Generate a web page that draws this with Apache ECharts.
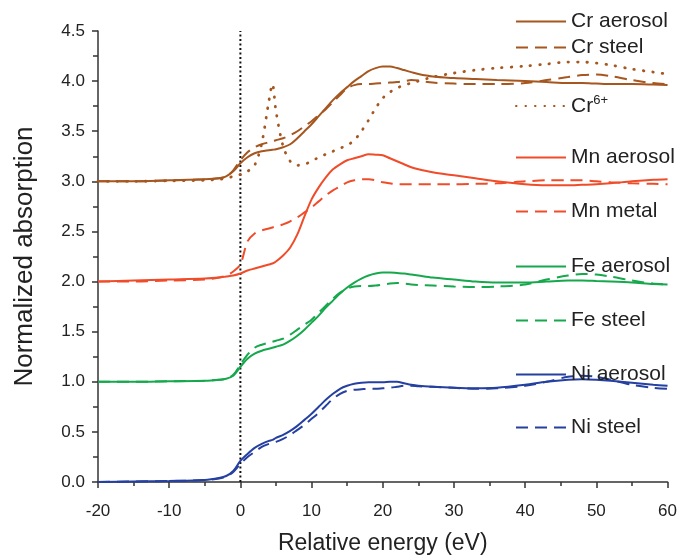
<!DOCTYPE html>
<html>
<head>
<meta charset="utf-8">
<script src="https://cdn.jsdelivr.net/npm/echarts@6/dist/echarts.min.js"></script>
<style>
  html, body { margin: 0; padding: 0; background: #fff; }
  #chart { width: 680px; height: 560px; }
</style>
</head>
<body>
<div id="chart"></div>
<script>
// Relative energy grid (eV) shared by every spectrum
const energy = [-20, -15, -10, -5, -3, -2, -1, 0, 1, 2, 3, 4, 4.5, 5, 6, 7, 8, 9, 10, 11, 12, 13, 14, 15, 16,
  17, 18, 19, 20, 21, 22, 23, 24, 25, 27, 30, 33, 36, 40, 43, 46, 48, 50, 52, 55, 58, 60];

// Normalized absorption, each element offset by one unit
const crAerosol = [3.00, 3.00, 3.01, 3.02, 3.03, 3.05, 3.10, 3.18, 3.24, 3.28, 3.30, 3.31, 3.315, 3.32, 3.34,
  3.37, 3.43, 3.50, 3.57, 3.65, 3.73, 3.81, 3.88, 3.94, 4.00, 4.05, 4.10, 4.13, 4.145, 4.145, 4.13, 4.11, 4.09,
  4.07, 4.045, 4.03, 4.02, 4.01, 4.00, 3.99, 3.98, 3.98, 3.975, 3.97, 3.97, 3.965, 3.96];
const crSteel = [3.00, 3.00, 3.01, 3.02, 3.03, 3.05, 3.11, 3.21, 3.29, 3.34, 3.37, 3.39, 3.40, 3.41, 3.43,
  3.46, 3.50, 3.55, 3.60, 3.66, 3.72, 3.79, 3.86, 3.93, 3.96, 3.97, 3.97, 3.975, 3.98, 3.985, 3.99, 4.00, 4.01,
  4.005, 3.985, 3.975, 3.97, 3.97, 3.98, 4.01, 4.04, 4.06, 4.065, 4.05, 4.01, 3.98, 3.97];
const cr6 = [3.00, 3.00, 3.005, 3.01, 3.02, 3.03, 3.05, 3.07, 3.10, 3.16, 3.38, 3.80, 3.97, 3.70, 3.35,
  3.20, 3.16, 3.17, 3.20, 3.24, 3.27, 3.30, 3.33, 3.36, 3.41, 3.50, 3.61, 3.73, 3.83, 3.89, 3.93, 3.96, 3.98,
  4.00, 4.04, 4.08, 4.11, 4.13, 4.15, 4.17, 4.19, 4.19, 4.18, 4.16, 4.12, 4.09, 4.07];
const mnAerosol = [2.00, 2.01, 2.02, 2.03, 2.04, 2.05, 2.06, 2.08, 2.11, 2.13, 2.15, 2.17, 2.18, 2.20, 2.26,
  2.34, 2.47, 2.65, 2.82, 2.94, 3.04, 3.12, 3.17, 3.21, 3.23, 3.25, 3.27, 3.265, 3.26, 3.23, 3.20, 3.17, 3.14,
  3.12, 3.09, 3.06, 3.03, 3.00, 2.97, 2.96, 2.96, 2.965, 2.97, 2.98, 3.00, 3.015, 3.02];
const mnMetal = [2.00, 2.00, 2.01, 2.02, 2.04, 2.06, 2.10, 2.17, 2.40, 2.48, 2.51, 2.53, 2.54, 2.55, 2.57,
  2.60, 2.64, 2.69, 2.74, 2.80, 2.86, 2.91, 2.95, 2.99, 3.01, 3.02, 3.02, 3.01, 2.99, 2.98, 2.97, 2.97, 2.97,
  2.97, 2.97, 2.97, 2.975, 2.98, 3.00, 3.01, 3.01, 3.01, 3.00, 2.99, 2.98, 2.975, 2.97];
const feAerosol = [1.00, 1.00, 1.005, 1.01, 1.02, 1.03, 1.06, 1.15, 1.23, 1.28, 1.31, 1.33, 1.34, 1.35, 1.37,
  1.41, 1.46, 1.52, 1.59, 1.66, 1.74, 1.81, 1.88, 1.94, 1.99, 2.03, 2.06, 2.08, 2.09, 2.09, 2.085, 2.08, 2.07,
  2.06, 2.04, 2.02, 2.00, 1.99, 1.99, 2.00, 2.01, 2.01, 2.005, 2.00, 1.99, 1.975, 1.97];
const feSteel = [1.00, 1.00, 1.005, 1.01, 1.02, 1.03, 1.07, 1.17, 1.27, 1.34, 1.37, 1.39, 1.40, 1.41, 1.43,
  1.47, 1.52, 1.57, 1.62, 1.69, 1.76, 1.83, 1.89, 1.93, 1.95, 1.955, 1.955, 1.96, 1.97, 1.98, 1.985, 1.98, 1.97,
  1.965, 1.96, 1.95, 1.945, 1.95, 1.97, 2.02, 2.06, 2.075, 2.07, 2.05, 2.01, 1.98, 1.97];
const niAerosol = [0.00, 0.005, 0.01, 0.02, 0.04, 0.06, 0.11, 0.21, 0.28, 0.34, 0.38, 0.41, 0.42, 0.44, 0.47,
  0.51, 0.56, 0.62, 0.68, 0.75, 0.82, 0.88, 0.93, 0.96, 0.98, 0.99, 0.995, 0.995, 0.995, 1.00, 1.00, 0.985, 0.97,
  0.96, 0.95, 0.94, 0.935, 0.94, 0.97, 1.00, 1.02, 1.025, 1.02, 1.01, 0.99, 0.97, 0.96];
const niSteel = [0.00, 0.005, 0.01, 0.02, 0.035, 0.055, 0.10, 0.18, 0.25, 0.30, 0.35, 0.38, 0.39, 0.40, 0.43,
  0.47, 0.52, 0.57, 0.63, 0.69, 0.76, 0.83, 0.88, 0.91, 0.92, 0.925, 0.93, 0.93, 0.935, 0.94, 0.95, 0.96, 0.96,
  0.955, 0.95, 0.94, 0.93, 0.935, 0.96, 1.00, 1.05, 1.06, 1.05, 1.02, 0.97, 0.94, 0.93];

// Axis ticks
const xTicks = [-20, -10, 0, 10, 20, 30, 40, 50, 60];
const yTicks = [0, 0.5, 1, 1.5, 2, 2.5, 3, 3.5, 4, 4.5];
const edgeEnergy = [0];

const FONT = '"Liberation Sans", Arial, Helvetica, sans-serif';
const colors = { Cr: '#A6561F', Mn: '#F04C2A', Fe: '#16A84C', Ni: '#2540A0' };
const solid = 'solid';
const dashed = [12, 7];
const dotted = [0.5, 9];

const spectra = [
  { name: 'Cr aerosol', values: crAerosol, color: colors.Cr, type: solid, legendY: 21 },
  { name: 'Cr steel', values: crSteel, color: colors.Cr, type: dashed, legendY: 47 },
  { name: 'Cr6+', values: cr6, color: colors.Cr, type: dotted, legendY: 104 },
  { name: 'Mn aerosol', values: mnAerosol, color: colors.Mn, type: solid, legendY: 157 },
  { name: 'Mn metal', values: mnMetal, color: colors.Mn, type: dashed, legendY: 211 },
  { name: 'Fe aerosol', values: feAerosol, color: colors.Fe, type: solid, legendY: 266 },
  { name: 'Fe steel', values: feSteel, color: colors.Fe, type: dashed, legendY: 320 },
  { name: 'Ni aerosol', values: niAerosol, color: colors.Ni, type: solid, legendY: 374 },
  { name: 'Ni steel', values: niSteel, color: colors.Ni, type: dashed, legendY: 427 }
];

const series = spectra.map(s => ({
  name: s.name,
  type: 'line',
  data: energy.map((e, i) => [e, s.values[i]]),
  smooth: 0.3,
  symbol: 'none',
  lineStyle: {
    color: s.color,
    width: s.type === dotted ? 2.8 : 2,
    type: s.type,
    cap: s.type === dotted ? 'round' : 'butt'
  },
  itemStyle: { color: s.color },
  z: 3
}));

// Vertical dotted marker at the absorption edge
series.push({
  name: 'edge',
  type: 'line',
  data: [[edgeEnergy[0], yTicks[0]], [edgeEnergy[0], yTicks[yTicks.length - 1]]],
  symbol: 'none',
  lineStyle: { color: '#111', width: 2, type: [2, 2.5] },
  silent: true,
  z: 2
});

const legends = spectra.map(s => ({
  data: [{ name: s.name, itemStyle: { opacity: 0 } }],
  left: 510,
  top: s.legendY - 15,
  itemWidth: 50,
  itemHeight: 14,
  selectedMode: false,
  formatter: n => n === 'Cr6+' ? 'Cr{sup|6+}' : n,
  textStyle: {
    fontFamily: FONT, fontSize: 21, color: '#222', lineHeight: 20,
    rich: { sup: { fontFamily: FONT, fontSize: 13, color: '#222', padding: [0, 0, 11, 0] } }
  }
}));

const chart = echarts.init(document.getElementById('chart'), null, { renderer: 'canvas' });
chart.setOption({
  animation: false,
  backgroundColor: '#fff',
  grid: { left: 98, right: 11, top: 31, bottom: 70, containLabel: false },
  legend: legends,
  xAxis: {
    type: 'value',
    min: xTicks[0], max: xTicks[xTicks.length - 1], interval: 10,
    name: 'Relative energy (eV)', nameLocation: 'middle', nameGap: 50,
    nameTextStyle: { fontFamily: FONT, fontSize: 23, color: '#222' },
    axisLine: { show: true, onZero: false, lineStyle: { color: '#333', width: 1.5 } },
    axisTick: { show: true, inside: false, length: 6, lineStyle: { color: '#333', width: 1.5 } },
    minorTick: { show: true, splitNumber: 2, length: 4, lineStyle: { color: '#333', width: 1.5 } },
    axisLabel: { fontFamily: FONT, fontSize: 17, color: '#222', margin: 21 },
    splitLine: { show: false }
  },
  yAxis: {
    type: 'value',
    min: yTicks[0], max: yTicks[yTicks.length - 1], interval: 0.5,
    name: 'Normalized absorption', nameLocation: 'middle', nameGap: 60,
    nameTextStyle: { fontFamily: FONT, fontSize: 26, color: '#222' },
    axisLine: { show: true, onZero: false, lineStyle: { color: '#333', width: 1.5 } },
    axisTick: { show: true, inside: false, length: 6, lineStyle: { color: '#333', width: 1.5 } },
    minorTick: { show: true, splitNumber: 2, length: 5, lineStyle: { color: '#333', width: 1.5 } },
    axisLabel: { fontFamily: FONT, fontSize: 17, color: '#222', margin: 13, formatter: v => v.toFixed(1) },
    splitLine: { show: false }
  },
  series: series
});
</script>
</body>
</html>
